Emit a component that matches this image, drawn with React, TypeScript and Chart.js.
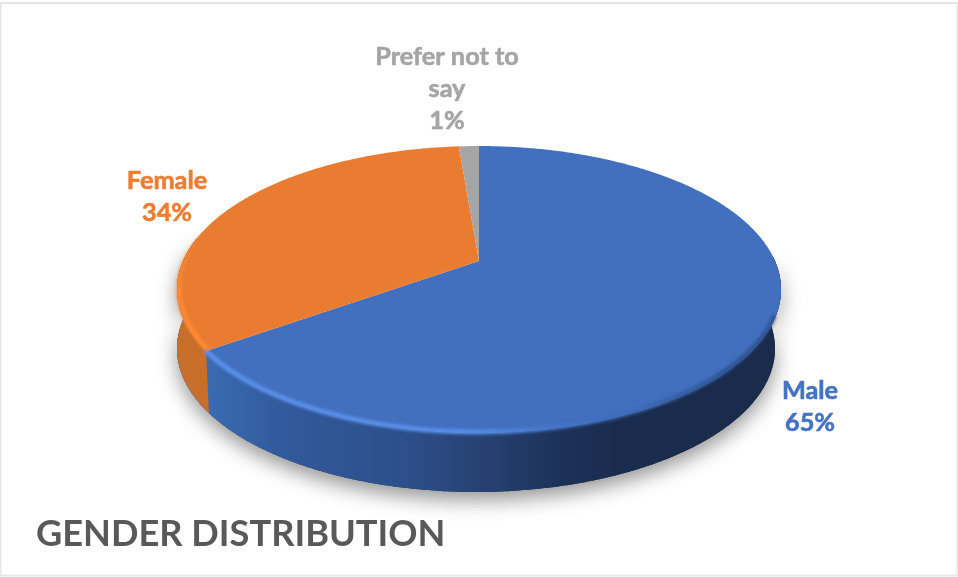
import React, { useEffect, useRef } from "react";
import { Chart, registerables } from "chart.js";

Chart.register(...registerables);

const categories = ["Male", "Female", "Prefer not to say"];
const shares = [65.2, 33.5, 1.3];
const shownPercent = ["65%", "34%", "1%"];
const labelLines = [["Male"], ["Female"], ["Prefer not to", "say"]];
const faceColors = ["#4270bf", "#e97c30", "#a5a5a5"];
const textColors = ["#4472c4", "#ed7d31", "#a5a5a5"];
const titleText = "GENDER DISTRIBUTION";

// Perspective view of the pie: unit-circle angle -> page pixel
const PIVOT_X = 479;
const PIVOT_Y = 261;
const RADIUS_X = 296;
const RADIUS_Y = 137.8;
const TILT = 0.1986;
const DEPTH = 59;
const BOTTOM_SCALE = 0.99;
const BOTTOM_SHIFT = -3;
const DEG = Math.PI / 180;

const top = (a: number): [number, number] => {
  const w = 1 - TILT * Math.sin(a);
  return [PIVOT_X + (RADIUS_X * Math.cos(a)) / w, PIVOT_Y + (RADIUS_Y * Math.sin(a)) / w];
};
const bottom = (a: number): [number, number] => {
  const [x, y] = top(a);
  return [PIVOT_X + BOTTOM_SHIFT + (x - PIVOT_X) * BOTTOM_SCALE, y + DEPTH];
};
const trace = (
  ctx: CanvasRenderingContext2D,
  fn: (a: number) => [number, number],
  from: number,
  to: number,
  start = false
) => {
  const n = Math.max(8, Math.ceil(Math.abs(to - from) / (0.5 * DEG)));
  for (let i = 0; i <= n; i++) {
    const [x, y] = fn(from + ((to - from) * i) / n);
    if (i === 0 && start) ctx.moveTo(x, y);
    else ctx.lineTo(x, y);
  }
};

const labelCentres: [number, number][] = [
  [810, 391],
  [167, 181],
  [447, 57],
];

const pie3d = {
  id: "pie3d",
  beforeDraw(chart: any) {
    const ctx = chart.ctx as CanvasRenderingContext2D;
    ctx.save();
    ctx.fillStyle = "#ffffff";
    ctx.fillRect(0, 0, chart.width, chart.height);
    ctx.strokeStyle = "#e6e6e6";
    ctx.lineWidth = 2;
    ctx.strokeRect(0.5, 3, 957, 572.5);
    ctx.restore();
  },
  beforeDatasetDraw(chart: any) {
    const ctx = chart.ctx as CanvasRenderingContext2D;
    const arcs = chart.getDatasetMeta(0).data as any[];
    const wall = () => {
      ctx.beginPath();
      trace(ctx, bottom, -2 * DEG, 190 * DEG, true);
      trace(ctx, top, 190 * DEG, -2 * DEG);
      ctx.closePath();
    };
    // cast shadow
    ctx.save();
    ctx.shadowColor = "rgba(0,0,0,0.42)";
    ctx.shadowBlur = 20;
    ctx.shadowOffsetY = 8;
    ctx.fillStyle = "#1a2c4d";
    wall();
    ctx.fill();
    ctx.restore();

    const split = arcs[0].endAngle;
    const [sx0, sy0] = top(split);
    const [sx1, sy1] = bottom(split);
    const slope = (sx1 - sx0 + 3) / (sy1 - sy0);
    const blue = ctx.createLinearGradient(200, 0, 785, 0);
    blue.addColorStop(0, "#3b6cb3");
    blue.addColorStop(0.15, "#31599b");
    blue.addColorStop(0.35, "#2d4f8a");
    blue.addColorStop(0.5, "#25406f");
    blue.addColorStop(0.62, "#1d3159");
    blue.addColorStop(0.72, "#1a2c4d");
    blue.addColorStop(1, "#1a2b4b");
    ctx.fillStyle = blue;
    wall();
    ctx.fill();
    // orange part of the wall, left of the slice boundary
    ctx.save();
    ctx.beginPath();
    ctx.moveTo(100, 200);
    ctx.lineTo(sx0 - slope * (sy0 - 200), 200);
    ctx.lineTo(sx0 + slope * (480 - sy0), 480);
    ctx.lineTo(100, 480);
    ctx.closePath();
    ctx.clip();
    ctx.fillStyle = "#c76f2a";
    wall();
    ctx.fill();
    ctx.restore();

    // top face, one wedge per arc element
    arcs.forEach((arc, i) => {
      ctx.beginPath();
      ctx.moveTo(PIVOT_X, PIVOT_Y);
      trace(ctx, top, arc.startAngle, arc.endAngle);
      ctx.closePath();
      ctx.fillStyle = faceColors[i];
      ctx.fill();
    });

    // bevel along the near rim
    ctx.save();
    ctx.filter = "blur(1.8px)";
    ctx.lineWidth = 5;
    ctx.lineCap = "butt";
    const rim = ctx.createLinearGradient(200, 0, 785, 0);
    rim.addColorStop(0, "#5b90ea");
    rim.addColorStop(0.45, "#5a8ee6");
    rim.addColorStop(0.6, "#4676c9");
    rim.addColorStop(0.75, "#3d68b2");
    rim.addColorStop(0.9, "#2f5493");
    rim.addColorStop(1, "rgba(40,71,124,0.6)");
    ctx.strokeStyle = rim;
    ctx.beginPath();
    trace(ctx, (a) => { const [x, y] = top(a); return [x - 1, y - 1]; }, 22 * DEG, split, true);
    ctx.stroke();
    const glow = ctx.createLinearGradient(0, 225, 0, 295);
    glow.addColorStop(0, "rgba(255,138,53,0)");
    glow.addColorStop(1, "#ff8a35");
    ctx.strokeStyle = glow;
    ctx.beginPath();
    trace(ctx, (a) => { const [x, y] = top(a); return [x + 2, y - 1]; }, split, 212 * DEG, true);
    ctx.stroke();
    ctx.restore();
    return false;
  },
  afterDatasetsDraw(chart: any) {
    const ctx = chart.ctx as CanvasRenderingContext2D;
    ctx.save();
    ctx.font = 'bold 25.3px Lato, "Open Sans", sans-serif';
    ctx.textAlign = "center";
    ctx.textBaseline = "middle";
    ctx.lineWidth = 0.6;
    ctx.lineJoin = "round";
    categories.forEach((_, i) => {
      const [cx, cy] = labelCentres[i];
      ctx.fillStyle = textColors[i];
      ctx.strokeStyle = textColors[i];
      [...labelLines[i], shownPercent[i]].forEach((line, j) => {
        ctx.fillText(line, cx, cy + j * 32);
        ctx.strokeText(line, cx, cy + j * 32);
      });
    });
    ctx.restore();
  },
};

export default function App() {
  const ref = useRef<HTMLCanvasElement>(null);
  useEffect(() => {
    if (!ref.current) return;
    const chart = new Chart(ref.current, {
      type: "pie",
      data: {
        labels: categories,
        datasets: [{ data: shares, backgroundColor: faceColors, borderWidth: 0 }],
      },
      options: {
        responsive: false,
        animation: false,
        layout: { padding: { left: 36, bottom: 21 } },
        plugins: {
          legend: { display: false },
          tooltip: { enabled: false },
          title: {
            display: true,
            text: titleText,
            position: "bottom",
            align: "start",
            color: "#595959",
            font: { family: 'Lato, "Open Sans", sans-serif', size: 36.2, weight: "bold" },
            padding: 0,
          },
        },
      },
      plugins: [pie3d],
    } as any);
    return () => chart.destroy();
  }, []);
  return (
    <div style={{ position: "fixed", left: 0, top: 0, width: 958, height: 577, overflow: "hidden", background: "#fff" }}>
      <canvas ref={ref} width={958} height={577} style={{ display: "block", filter: "blur(0.7px)" }} />
    </div>
  );
}
